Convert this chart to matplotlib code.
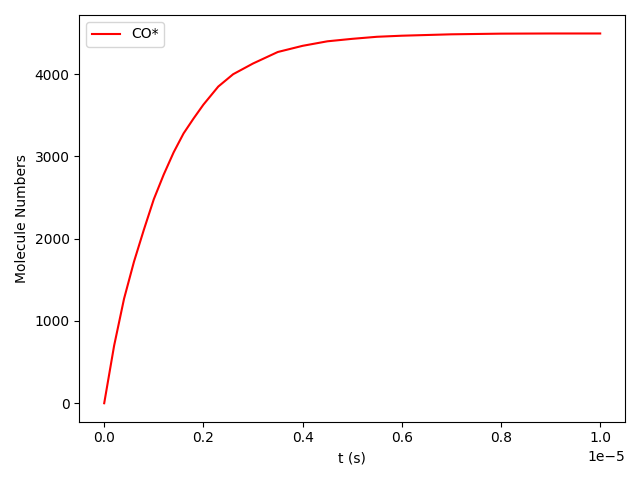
import numpy as np
import matplotlib.pyplot as plt

# time (s) and CO* count
t = np.array([0.0, 0.02, 0.04, 0.06, 0.08, 0.10, 0.12, 0.14, 0.16, 0.18,
              0.20, 0.23, 0.26, 0.30, 0.35, 0.40, 0.45, 0.50, 0.55, 0.60,
              0.70, 0.80, 0.90, 1.0]) * 1e-5
co = np.array([0, 700, 1270, 1720, 2110, 2480, 2780, 3050, 3280, 3460,
               3630, 3850, 4000, 4130, 4270, 4345, 4400, 4430, 4455, 4468,
               4485, 4493, 4495, 4495])

plt.figure(figsize=(6.4, 4.8), dpi=100)
plt.plot(t, co, color='red', label='CO*')
plt.xlabel('t (s)')
plt.ylabel('Molecule Numbers')
plt.legend(loc='upper left')
plt.tight_layout()
plt.savefig('out.png')
